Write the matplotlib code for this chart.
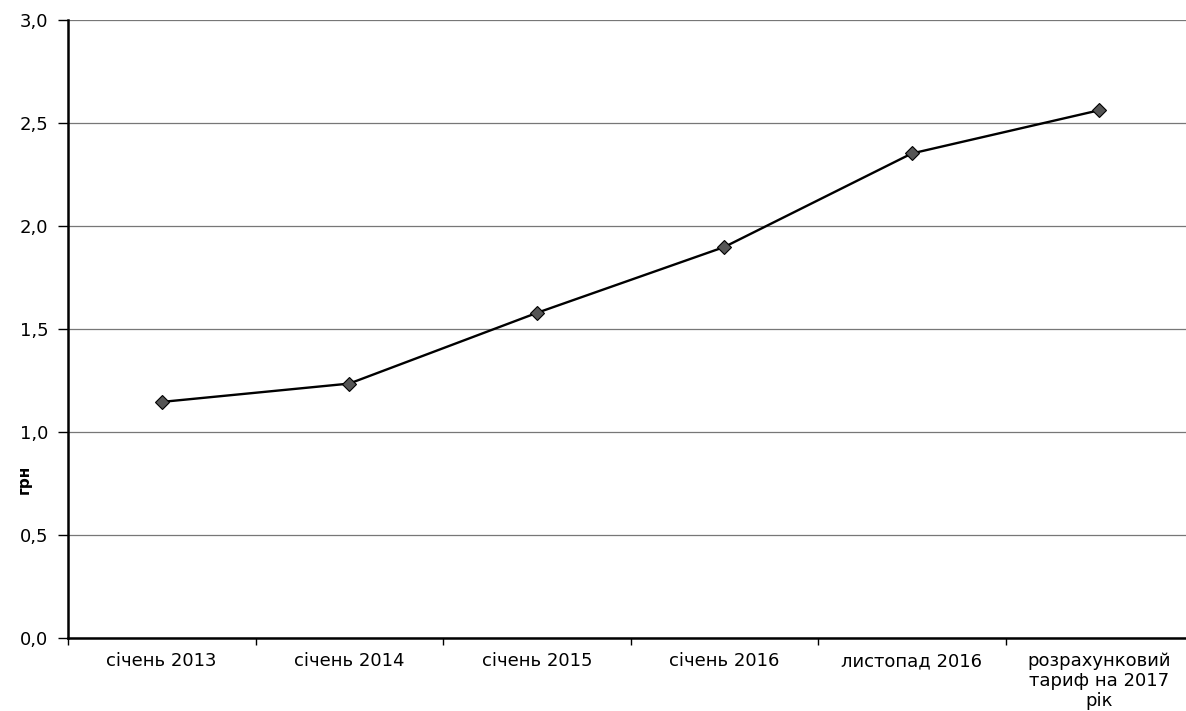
import matplotlib.pyplot as plt
from matplotlib.ticker import FuncFormatter, MultipleLocator, FixedLocator

plt.rcParams['font.family'] = ['DejaVu Sans']

categories = ["січень 2013", "січень 2014", "січень 2015", "січень 2016",
              "листопад 2016", "розрахунковий\nтариф на 2017\nрік"]
values = [1.146, 1.235, 1.578, 1.898, 2.352, 2.562]

fig = plt.figure(figsize=(11.86, 7.11), dpi=100)
# right edge of the plot area runs past the picture, as in the scan
ax = fig.add_axes([68 / 1186, 73 / 711, 1125 / 1186, 618 / 711])

x = list(range(len(categories)))
ax.plot(x, values, color="black", lw=1.7, marker="D", markersize=7,
        markerfacecolor="#555555", markeredgecolor="black", markeredgewidth=0.8,
        zorder=3)

ax.set_xlim(-0.5, len(categories) - 0.5)
ax.set_ylim(0, 3.0)
ax.yaxis.set_major_locator(MultipleLocator(0.5))
ax.yaxis.set_major_formatter(FuncFormatter(lambda v, p: f"{v:.1f}".replace(".", ",")))
ax.grid(axis="y", color="#777777", lw=0.9)
ax.set_axisbelow(True)

ax.set_xticks(x)
ax.set_xticklabels(categories, fontsize=13, linespacing=1.15)
ax.xaxis.set_minor_locator(FixedLocator([i + 0.5 for i in range(-1, len(categories))]))
ax.tick_params(axis="x", which="major", length=0, pad=10)
ax.tick_params(axis="x", which="minor", length=5, width=1)
ax.tick_params(axis="y", labelsize=13, length=7, width=1, pad=7)

for s in ["top", "right"]:
    ax.spines[s].set_visible(False)
ax.spines["left"].set_linewidth(1.8)
ax.spines["bottom"].set_linewidth(1.8)

fig.text(24 / 1186, 1 - 479 / 711, "грн", rotation=90, fontsize=11,
         fontweight="bold", ha="center", va="center")

fig.savefig("out.png", dpi=100)
